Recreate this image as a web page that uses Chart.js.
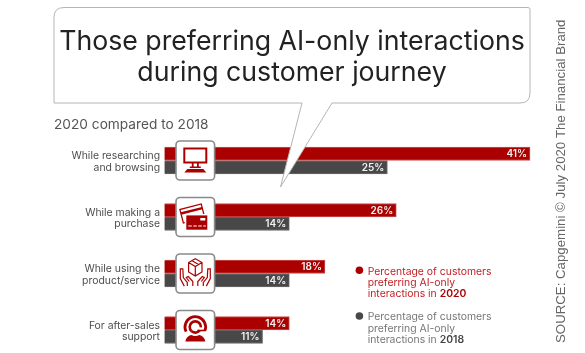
<!DOCTYPE html>
<html>
<head>
<meta charset="utf-8">
<script src="https://cdn.jsdelivr.net/npm/chart.js@4/dist/chart.umd.min.js"></script>
<style>
    html, body { margin: 0; padding: 0; background: #fff; overflow: hidden; }
    #wrap { position: relative; width: 585px; height: 353px; }
</style>
</head>
<body>
<div id="wrap"><canvas id="chart" width="585" height="353"></canvas></div>
<script>
const categories = [
    ['While researching', 'and browsing'],
    ['While making a', 'purchase'],
    ['While using the', 'product/service'],
    ['For after-sales', 'support']
];
const values2020 = [41, 26, 18, 14];
const values2018 = [25, 14, 14, 11];
const titleLines = ['Those preferring AI-only interactions', 'during customer journey'];
const subtitle = '2020 compared to 2018';
const sourceText = 'SOURCE: Capgemini © July 2020 The Financial Brand';
const legendLines = ['Percentage of customers', 'preferring AI-only', 'interactions in '];

const RED = '#ab0000';
const GRAY = '#484848';
const FONT = 'Inter, "Open Sans", sans-serif';

// speech bubble goes over the bars, so it is drawn after the datasets
function drawCallout(ctx) {
    ctx.save();
    ctx.beginPath();
    ctx.moveTo(64, 7.5);
    ctx.lineTo(528, 7.5);
    ctx.quadraticCurveTo(530, 7.5, 530, 9.5);
    ctx.lineTo(530, 93);
    ctx.quadraticCurveTo(530, 103, 520, 103);
    ctx.lineTo(332, 103);
    ctx.lineTo(280.5, 187);
    ctx.lineTo(302, 103);
    ctx.lineTo(54, 103);
    ctx.lineTo(54, 17.5);
    ctx.quadraticCurveTo(54, 7.5, 64, 7.5);
    ctx.closePath();
    ctx.fillStyle = '#fff';
    ctx.fill();
    ctx.strokeStyle = '#b5b5b5';
    ctx.lineWidth = 1;
    ctx.stroke();

    ctx.fillStyle = '#222';
    ctx.font = '26.7px ' + FONT;
    ctx.textAlign = 'center';
    ctx.textBaseline = 'alphabetic';
    ctx.fillText(titleLines[0], 292, 50);
    ctx.fillText(titleLines[1], 292, 81);
    ctx.restore();
}

function drawMonitor(ctx) {
    ctx.lineWidth = 2;
    ctx.strokeRect(-11, -12, 22, 14);
    ctx.fillRect(-3.5, 2, 1.8, 5);
    ctx.fillRect(1.7, 2, 1.8, 5);
    ctx.fillRect(-5.5, 6, 11, 1.5);
    ctx.beginPath();
    ctx.moveTo(-8, 8.5);
    ctx.lineTo(8, 8.5);
    ctx.lineTo(11, 12);
    ctx.lineTo(-11, 12);
    ctx.closePath();
    ctx.fill();
}

function drawCards(ctx) {
    ctx.save();
    ctx.translate(-3, -3.5);
    ctx.rotate(-0.25);
    ctx.lineWidth = 1.3;
    ctx.strokeRect(-11, -7, 22, 14);
    ctx.fillRect(-11, -4, 22, 2.5);
    ctx.restore();
    ctx.fillStyle = '#fff';
    ctx.fillRect(-10.5, -3, 24, 17);
    ctx.fillStyle = RED;
    ctx.fillRect(-9, -1.6, 21, 14.3);
    ctx.fillStyle = '#fff';
    ctx.fillRect(5, 1, 5, 2.5);
    ctx.fillRect(-7, 8.5, 3.5, 1);
    ctx.fillRect(-2, 8.5, 3.5, 1);
    ctx.fillRect(3, 8.5, 3.5, 1);
    ctx.fillRect(8, 8.5, 2.5, 1);
}

function drawBoxHands(ctx) {
    ctx.lineWidth = 1.2;
    // box
    ctx.beginPath();
    ctx.moveTo(0, -14.7);
    ctx.lineTo(6.7, -11);
    ctx.lineTo(6.7, -1.5);
    ctx.lineTo(0, 2.6);
    ctx.lineTo(-6.7, -1.5);
    ctx.lineTo(-6.7, -11);
    ctx.closePath();
    ctx.moveTo(-6.7, -11);
    ctx.lineTo(0, -7);
    ctx.lineTo(6.7, -11);
    ctx.moveTo(0, -7);
    ctx.lineTo(0, 2.6);
    ctx.moveTo(-3.5, -13);
    ctx.lineTo(3.2, -9);
    ctx.stroke();
    // hands
    [-1, 1].forEach((s) => {
        ctx.beginPath();
        ctx.moveTo(s * 2.5, 12.6);
        ctx.lineTo(s * 2.5, 8);
        ctx.lineTo(s * 7, 3);
        ctx.lineTo(s * 9, 4);
        ctx.lineTo(s * 6, 8);
        ctx.moveTo(s * 8, 12.6);
        ctx.lineTo(s * 8, 9);
        ctx.lineTo(s * 12, 4);
        ctx.lineTo(s * 12.5, -4.7);
        ctx.lineTo(s * 15, -4.7);
        ctx.lineTo(s * 15, 5);
        ctx.lineTo(s * 11, 12.6);
        ctx.stroke();
    });
}

function drawSupport(ctx) {
    ctx.lineWidth = 2.8;
    ctx.beginPath();
    ctx.arc(0, -3, 10.3, Math.PI * 0.85, Math.PI * 0.12);
    ctx.stroke();
    ctx.lineWidth = 2.6;
    ctx.beginPath();
    ctx.arc(0, -3, 5.6, Math.PI * 0.75, Math.PI * 0.02);
    ctx.stroke();
    ctx.beginPath();
    ctx.arc(0, -3, 5.6, Math.PI * 0.2, Math.PI * 0.75);
    ctx.stroke();
    ctx.lineWidth = 1.6;
    ctx.beginPath();
    ctx.moveTo(10.5, 0.5);
    ctx.lineTo(2, 0.5);
    ctx.stroke();
    ctx.beginPath();
    ctx.moveTo(-10, 11.5);
    ctx.quadraticCurveTo(-9, 6, -4, 5);
    ctx.quadraticCurveTo(0, 7, 4, 5);
    ctx.quadraticCurveTo(9, 6, 10, 11.5);
    ctx.closePath();
    ctx.fill();
}

const icons = [drawMonitor, drawCards, drawBoxHands, drawSupport];

const overlay = {
    id: 'overlay',
    afterDatasetsDraw(chart) {
        const { ctx, scales } = chart;
        ctx.save();

        // value labels at the end of each bar
        ctx.font = '600 10px ' + FONT;
        ctx.fillStyle = '#f2f2f2';
        ctx.textAlign = 'right';
        ctx.textBaseline = 'middle';
        chart.data.datasets.forEach((ds, i) => {
            chart.getDatasetMeta(i).data.forEach((bar, j) => {
                ctx.fillText(ds.data[j] + '%', bar.x - 3, bar.y + 0.5);
            });
        });

        drawCallout(ctx);

        // icon tiles sit on top of the bars
        categories.forEach((c, i) => {
            const cy = scales.y.getPixelForValue(i);
            ctx.save();
            ctx.translate(195.3, cy);
            ctx.beginPath();
            ctx.roundRect(-19.3, -19.5, 38.6, 39, 4);
            ctx.fillStyle = '#fff';
            ctx.fill();
            ctx.strokeStyle = '#8a8a8a';
            ctx.lineWidth = 1.6;
            ctx.stroke();
            ctx.fillStyle = RED;
            ctx.strokeStyle = RED;
            icons[i](ctx);
            ctx.restore();
        });

        // subtitle
        ctx.font = '13.7px ' + FONT;
        ctx.fillStyle = '#555';
        ctx.textAlign = 'left';
        ctx.textBaseline = 'alphabetic';
        ctx.fillText(subtitle, 54, 129);

        // legend
        const rows = [
            { color: '#c01f24', dot: RED, top: 271, year: '2020', yearColor: '#ab0000' },
            { color: '#777', dot: GRAY, top: 316.7, year: '2018', yearColor: '#444' }
        ];
        rows.forEach((r) => {
            ctx.fillStyle = r.dot;
            ctx.beginPath();
            ctx.arc(359.4, r.top - 0.7, 3.8, 0, Math.PI * 2);
            ctx.fill();
            ctx.font = '10.4px ' + FONT;
            ctx.fillStyle = r.color;
            legendLines.forEach((line, k) => {
                ctx.fillText(line, 367.7, r.top + 3.6 + k * 11.3);
            });
            const w = ctx.measureText(legendLines[2]).width;
            ctx.font = '600 10.4px ' + FONT;
            ctx.fillStyle = r.yearColor;
            ctx.fillText(r.year, 367.7 + w, r.top + 3.6 + 2 * 11.3);
        });

        // rotated source line
        ctx.translate(564.5, 343);
        ctx.rotate(-Math.PI / 2);
        ctx.font = '13.25px "Liberation Sans", Arial, sans-serif';
        ctx.fillStyle = '#666';
        ctx.fillText(sourceText, 0, 0);
        ctx.restore();
    }
};

new Chart(document.getElementById('chart').getContext('2d'), {
    type: 'bar',
    data: {
        labels: categories,
        datasets: [
            { label: '2020', data: values2020, backgroundColor: RED, borderColor: '#c85050', borderWidth: 1, barThickness: 13.5, clip: false },
            { label: '2018', data: values2018, backgroundColor: GRAY, borderColor: '#6a6a6a', borderWidth: 1, barThickness: 13.5, clip: false }
        ]
    },
    options: {
        indexAxis: 'y',
        responsive: false,
        animation: false,
        layout: { padding: { left: 0, right: 55, top: 160.5, bottom: 23 } },
        plugins: {
            legend: { display: false },
            title: { display: false },
            tooltip: { enabled: false }
        },
        scales: {
            x: { display: false, min: 0, max: 41 },
            y: {
                offset: false,
                afterFit: (scale) => { scale.width = 164.5; },
                border: { display: false },
                grid: { display: false, drawTicks: false },
                ticks: {
                    padding: 4.5,
                    labelOffset: 1.4,
                    color: '#4d4d4d',
                    font: { family: FONT, size: 10.4, lineHeight: 1.12 }
                }
            }
        }
    },
    plugins: [overlay]
});
</script>
</body>
</html>
